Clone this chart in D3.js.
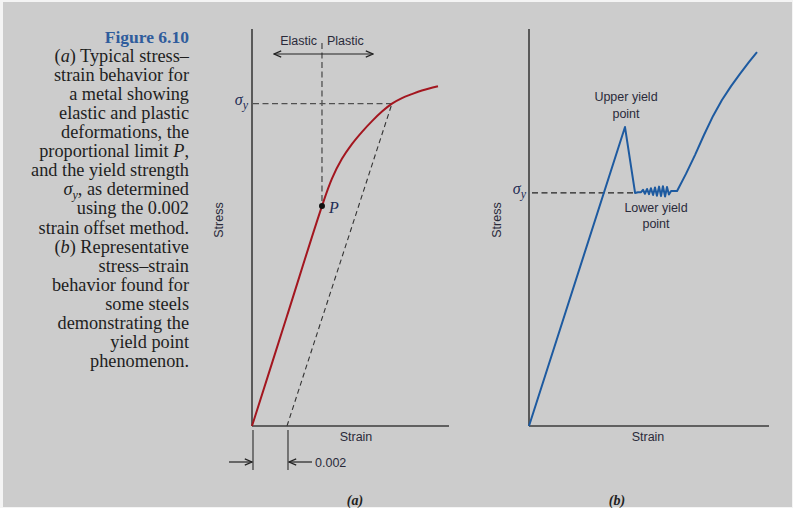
<!DOCTYPE html>
<html>
<head>
<meta charset="utf-8">
<script src="https://cdn.jsdelivr.net/npm/d3@7"></script>
<style>
  body { margin: 0; background: #f4f4f4; }
  svg { display: block; }
  .lbl { font-family: 'Liberation Sans', Arial, sans-serif; font-size: 12.5px; fill: #2a2a3a; }
  .cap { font-family: 'Liberation Serif', 'Times New Roman', serif; font-size: 18.3px; fill: #1e1e1e; }
</style>
</head>
<body>
<div id="chart"></div>
<script>
// Caption lines: [text, style] segments
const captionLines = [
  [['Figure 6.10', 'fig']],
  [['(', ''], ['a', 'i'], [') Typical stress–', '']],
  [['strain behavior for', '']],
  [['a metal showing', '']],
  [['elastic and plastic', '']],
  [['deformations, the', '']],
  [['proportional limit ', ''], ['P', 'i'], [',', '']],
  [['and the yield strength', '']],
  [['σ', 'i'], ['y', 'sub'], [', as determined', '']],
  [['using the 0.002', '']],
  [['strain offset method.', '']],
  [['(', ''], ['b', 'i'], [') Representative', '']],
  [['stress–strain', '']],
  [['behavior found for', '']],
  [['some steels', '']],
  [['demonstrating the', '']],
  [['yield point', '']],
  [['phenomenon.', '']]
];

// Panel (a): typical metal, strain (real units) vs stress (relative)
const strainA = [0, 0.002, 0.004, 0.00457, 0.00514, 0.00571, 0.00629, 0.00686, 0.00743, 0.008, 0.00857, 0.00914, 0.00971, 0.01063];
const stressA = [0, 27.7, 55.4, 62.3, 67.3, 71.0, 74.1, 76.8, 79.2, 81.2, 82.6, 83.6, 84.5, 85.6];
const propLimit = { strain: 0.004, stress: 55.4 };
const offsetStrain = 0.002;
const yieldA = { strain: 0.008, stress: 81.2 };

// Panel (b): steel with yield point phenomenon (relative units)
const strainB = [0, 40, 44.2, 45.4, 46.7, 47.5, 48.3, 49.2, 50, 50.8, 51.7, 52.5, 53.3, 54.2, 55, 55.8, 56.7, 57.5, 58.3, 59.2, 61.7,
  65.4, 69.2, 72.9, 76.7, 80.4, 84.2, 87.9, 91.7, 95];
const stressB = [0, 75.3, 58.7, 58.9, 58.9, 59.5, 58.5, 59.7, 58.4, 59.9, 58.2, 60.1, 58.0, 60.3, 57.9, 60.4, 57.8, 60.2, 58.3, 59.2, 59.2,
  63.5, 68.3, 73.3, 78.1, 82.1, 85.6, 88.7, 91.7, 94.2];
const upperYieldB = { strain: 40, stress: 75.3 };
const lowerYieldB = { strain: 44.2, stress: 58.7 };

const width = 793;
const height = 508;
const red = '#a3161f';
const blue = '#1d5aa0';
const axisColor = '#3c3c3c';
const dashColor = '#505050';

const svg = d3.select('#chart').append('svg').attr('width', width).attr('height', height);

svg.append('rect').attr('x', 3).attr('y', 2).attr('width', width - 4).attr('height', height - 3).attr('fill', '#cccccc');

const defs = svg.append('defs');
defs.append('marker')
  .attr('id', 'arr')
  .attr('viewBox', '0 0 10 10')
  .attr('refX', 9).attr('refY', 5)
  .attr('markerWidth', 9).attr('markerHeight', 9)
  .attr('markerUnits', 'userSpaceOnUse')
  .attr('orient', 'auto')
  .append('path')
  .attr('d', 'M1,1.5 L9,5 L1,8.5')
  .attr('fill', 'none')
  .attr('stroke', '#222')
  .attr('stroke-width', 1.3);

// Caption
const cap = svg.append('text').attr('class', 'cap').attr('text-anchor', 'end');
captionLines.forEach((segs, i) => {
  const y = 43 + i * 19.05;
  const line = cap.append('tspan').attr('x', 189).attr('y', y);
  let lifted = false;
  segs.forEach(([t, s]) => {
    const ts = line.append('tspan').text(t);
    if (lifted) { ts.attr('dy', -4); lifted = false; }
    if (s === 'fig') ts.attr('font-weight', 'bold').attr('fill', '#2f5c9c').attr('font-size', '17.5px');
    if (s === 'i') ts.attr('font-style', 'italic');
    if (s === 'sub') {
      ts.attr('font-style', 'italic').attr('font-size', '12px').attr('dy', 4);
      lifted = true;
    }
  });
});

function sigmaLabel(x, y) {
  const t = svg.append('text')
    .attr('x', x).attr('y', y)
    .attr('text-anchor', 'end')
    .attr('font-family', "'Liberation Serif', serif")
    .attr('font-style', 'italic')
    .attr('font-size', '16px')
    .attr('fill', '#1f2c55');
  t.append('tspan').text('σ');
  t.append('tspan').text('y').attr('font-size', '12px').attr('dy', 4);
}

function axes(x, y) {
  const [x0, x1] = x.range();
  const [y0, y1] = y.range();
  svg.append('line').attr('x1', x0).attr('x2', x0).attr('y1', y1).attr('y2', y0)
    .attr('stroke', axisColor).attr('stroke-width', 1.6);
  svg.append('line').attr('x1', x0).attr('x2', x1).attr('y1', y0).attr('y2', y0)
    .attr('stroke', axisColor).attr('stroke-width', 1.6);
}

// ---------- Panel (a) ----------
const xA = d3.scaleLinear().domain([0, 0.01126]).range([252, 449]);
const yA = d3.scaleLinear().domain([0, 100]).range([426, 29]);

// dashed guides
svg.append('line')
  .attr('x1', xA(0) + 1).attr('x2', xA(yieldA.strain))
  .attr('y1', yA(yieldA.stress)).attr('y2', yA(yieldA.stress))
  .attr('stroke', dashColor).attr('stroke-width', 1.3).attr('stroke-dasharray', '6,3.5');
svg.append('line')
  .attr('x1', xA(propLimit.strain)).attr('x2', xA(propLimit.strain))
  .attr('y1', 43).attr('y2', yA(propLimit.stress))
  .attr('stroke', dashColor).attr('stroke-width', 1.3).attr('stroke-dasharray', '6,3.5');
svg.append('line')
  .attr('x1', xA(offsetStrain)).attr('x2', xA(yieldA.strain))
  .attr('y1', yA(0)).attr('y2', yA(yieldA.stress))
  .attr('stroke', '#333').attr('stroke-width', 1.1).attr('stroke-dasharray', '5,3.5');

axes(xA, yA);

svg.append('path')
  .datum(d3.zip(strainA, stressA))
  .attr('fill', 'none')
  .attr('stroke', red)
  .attr('stroke-width', 2)
  .attr('d', d3.line().x(d => xA(d[0])).y(d => yA(d[1])).curve(d3.curveCatmullRom.alpha(0.5)));

svg.append('circle')
  .attr('cx', xA(propLimit.strain)).attr('cy', yA(propLimit.stress))
  .attr('r', 3).attr('fill', '#111');
svg.append('text')
  .attr('x', xA(propLimit.strain) + 7).attr('y', yA(propLimit.stress) + 7)
  .attr('font-family', "'Liberation Serif', serif").attr('font-style', 'italic')
  .attr('font-size', '16px').attr('fill', '#1f2c55').text('P');

sigmaLabel(248, yA(yieldA.stress) + 1);

// Elastic | Plastic
svg.append('text').attr('class', 'lbl').attr('x', xA(propLimit.strain) - 5).attr('y', 45)
  .attr('text-anchor', 'end').text('Elastic');
svg.append('text').attr('class', 'lbl').attr('x', xA(propLimit.strain) + 5).attr('y', 45)
  .text('Plastic');
svg.append('line')
  .attr('x1', xA(propLimit.strain)).attr('x2', 274).attr('y1', 54).attr('y2', 54)
  .attr('stroke', '#222').attr('stroke-width', 1.2).attr('marker-end', 'url(#arr)');
svg.append('line')
  .attr('x1', xA(propLimit.strain)).attr('x2', 373).attr('y1', 54).attr('y2', 54)
  .attr('stroke', '#222').attr('stroke-width', 1.2).attr('marker-end', 'url(#arr)');

svg.append('text').attr('class', 'lbl').attr('x', 356).attr('y', 441).attr('text-anchor', 'middle').text('Strain');
svg.append('text').attr('class', 'lbl').attr('transform', 'translate(223,220) rotate(-90)')
  .attr('text-anchor', 'middle').text('Stress');

// 0.002 offset dimension
[0, offsetStrain].forEach(s => {
  svg.append('line')
    .attr('x1', xA(s) + 1).attr('x2', xA(s) + 1).attr('y1', 430).attr('y2', 470)
    .attr('stroke', '#444').attr('stroke-width', 1.3);
});
svg.append('line').attr('x1', 229).attr('x2', xA(0)).attr('y1', 462).attr('y2', 462)
  .attr('stroke', '#222').attr('stroke-width', 1.2).attr('marker-end', 'url(#arr)');
svg.append('line').attr('x1', 312).attr('x2', xA(offsetStrain) + 2).attr('y1', 462).attr('y2', 462)
  .attr('stroke', '#222').attr('stroke-width', 1.2).attr('marker-end', 'url(#arr)');
svg.append('text').attr('class', 'lbl').attr('x', 315).attr('y', 467).text('0.002');

svg.append('text').attr('x', 355).attr('y', 505).attr('text-anchor', 'middle')
  .attr('font-family', "'Liberation Serif', serif").attr('font-style', 'italic').attr('font-weight', 'bold')
  .attr('font-size', '14px').attr('fill', '#222').text('(a)');

// ---------- Panel (b) ----------
const xB = d3.scaleLinear().domain([0, 100]).range([529, 769]);
const yB = d3.scaleLinear().domain([0, 100]).range([426, 29]);

svg.append('line')
  .attr('x1', xB(0) + 3).attr('x2', xB(lowerYieldB.strain))
  .attr('y1', yB(lowerYieldB.stress)).attr('y2', yB(lowerYieldB.stress))
  .attr('stroke', '#222').attr('stroke-width', 1.3).attr('stroke-dasharray', '6,3.5');

axes(xB, yB);

svg.append('path')
  .datum(d3.zip(strainB, stressB))
  .attr('fill', 'none')
  .attr('stroke', blue)
  .attr('stroke-width', 2)
  .attr('stroke-linejoin', 'round')
  .attr('d', d3.line().x(d => xB(d[0])).y(d => yB(d[1])));

sigmaLabel(526, yB(lowerYieldB.stress) + 1);

svg.append('text').attr('class', 'lbl').attr('x', xB(upperYieldB.strain) + 1).attr('y', 101)
  .attr('text-anchor', 'middle').text('Upper yield');
svg.append('text').attr('class', 'lbl').attr('x', xB(upperYieldB.strain) + 1).attr('y', 118)
  .attr('text-anchor', 'middle').text('point');
svg.append('text').attr('class', 'lbl').attr('x', 656).attr('y', 212)
  .attr('text-anchor', 'middle').text('Lower yield');
svg.append('text').attr('class', 'lbl').attr('x', 656).attr('y', 228)
  .attr('text-anchor', 'middle').text('point');

svg.append('text').attr('class', 'lbl').attr('x', 648).attr('y', 441).attr('text-anchor', 'middle').text('Strain');
svg.append('text').attr('class', 'lbl').attr('transform', 'translate(501,220) rotate(-90)')
  .attr('text-anchor', 'middle').text('Stress');

svg.append('text').attr('x', 617).attr('y', 505).attr('text-anchor', 'middle')
  .attr('font-family', "'Liberation Serif', serif").attr('font-style', 'italic').attr('font-weight', 'bold')
  .attr('font-size', '14px').attr('fill', '#222').text('(b)');
</script>
</body>
</html>
